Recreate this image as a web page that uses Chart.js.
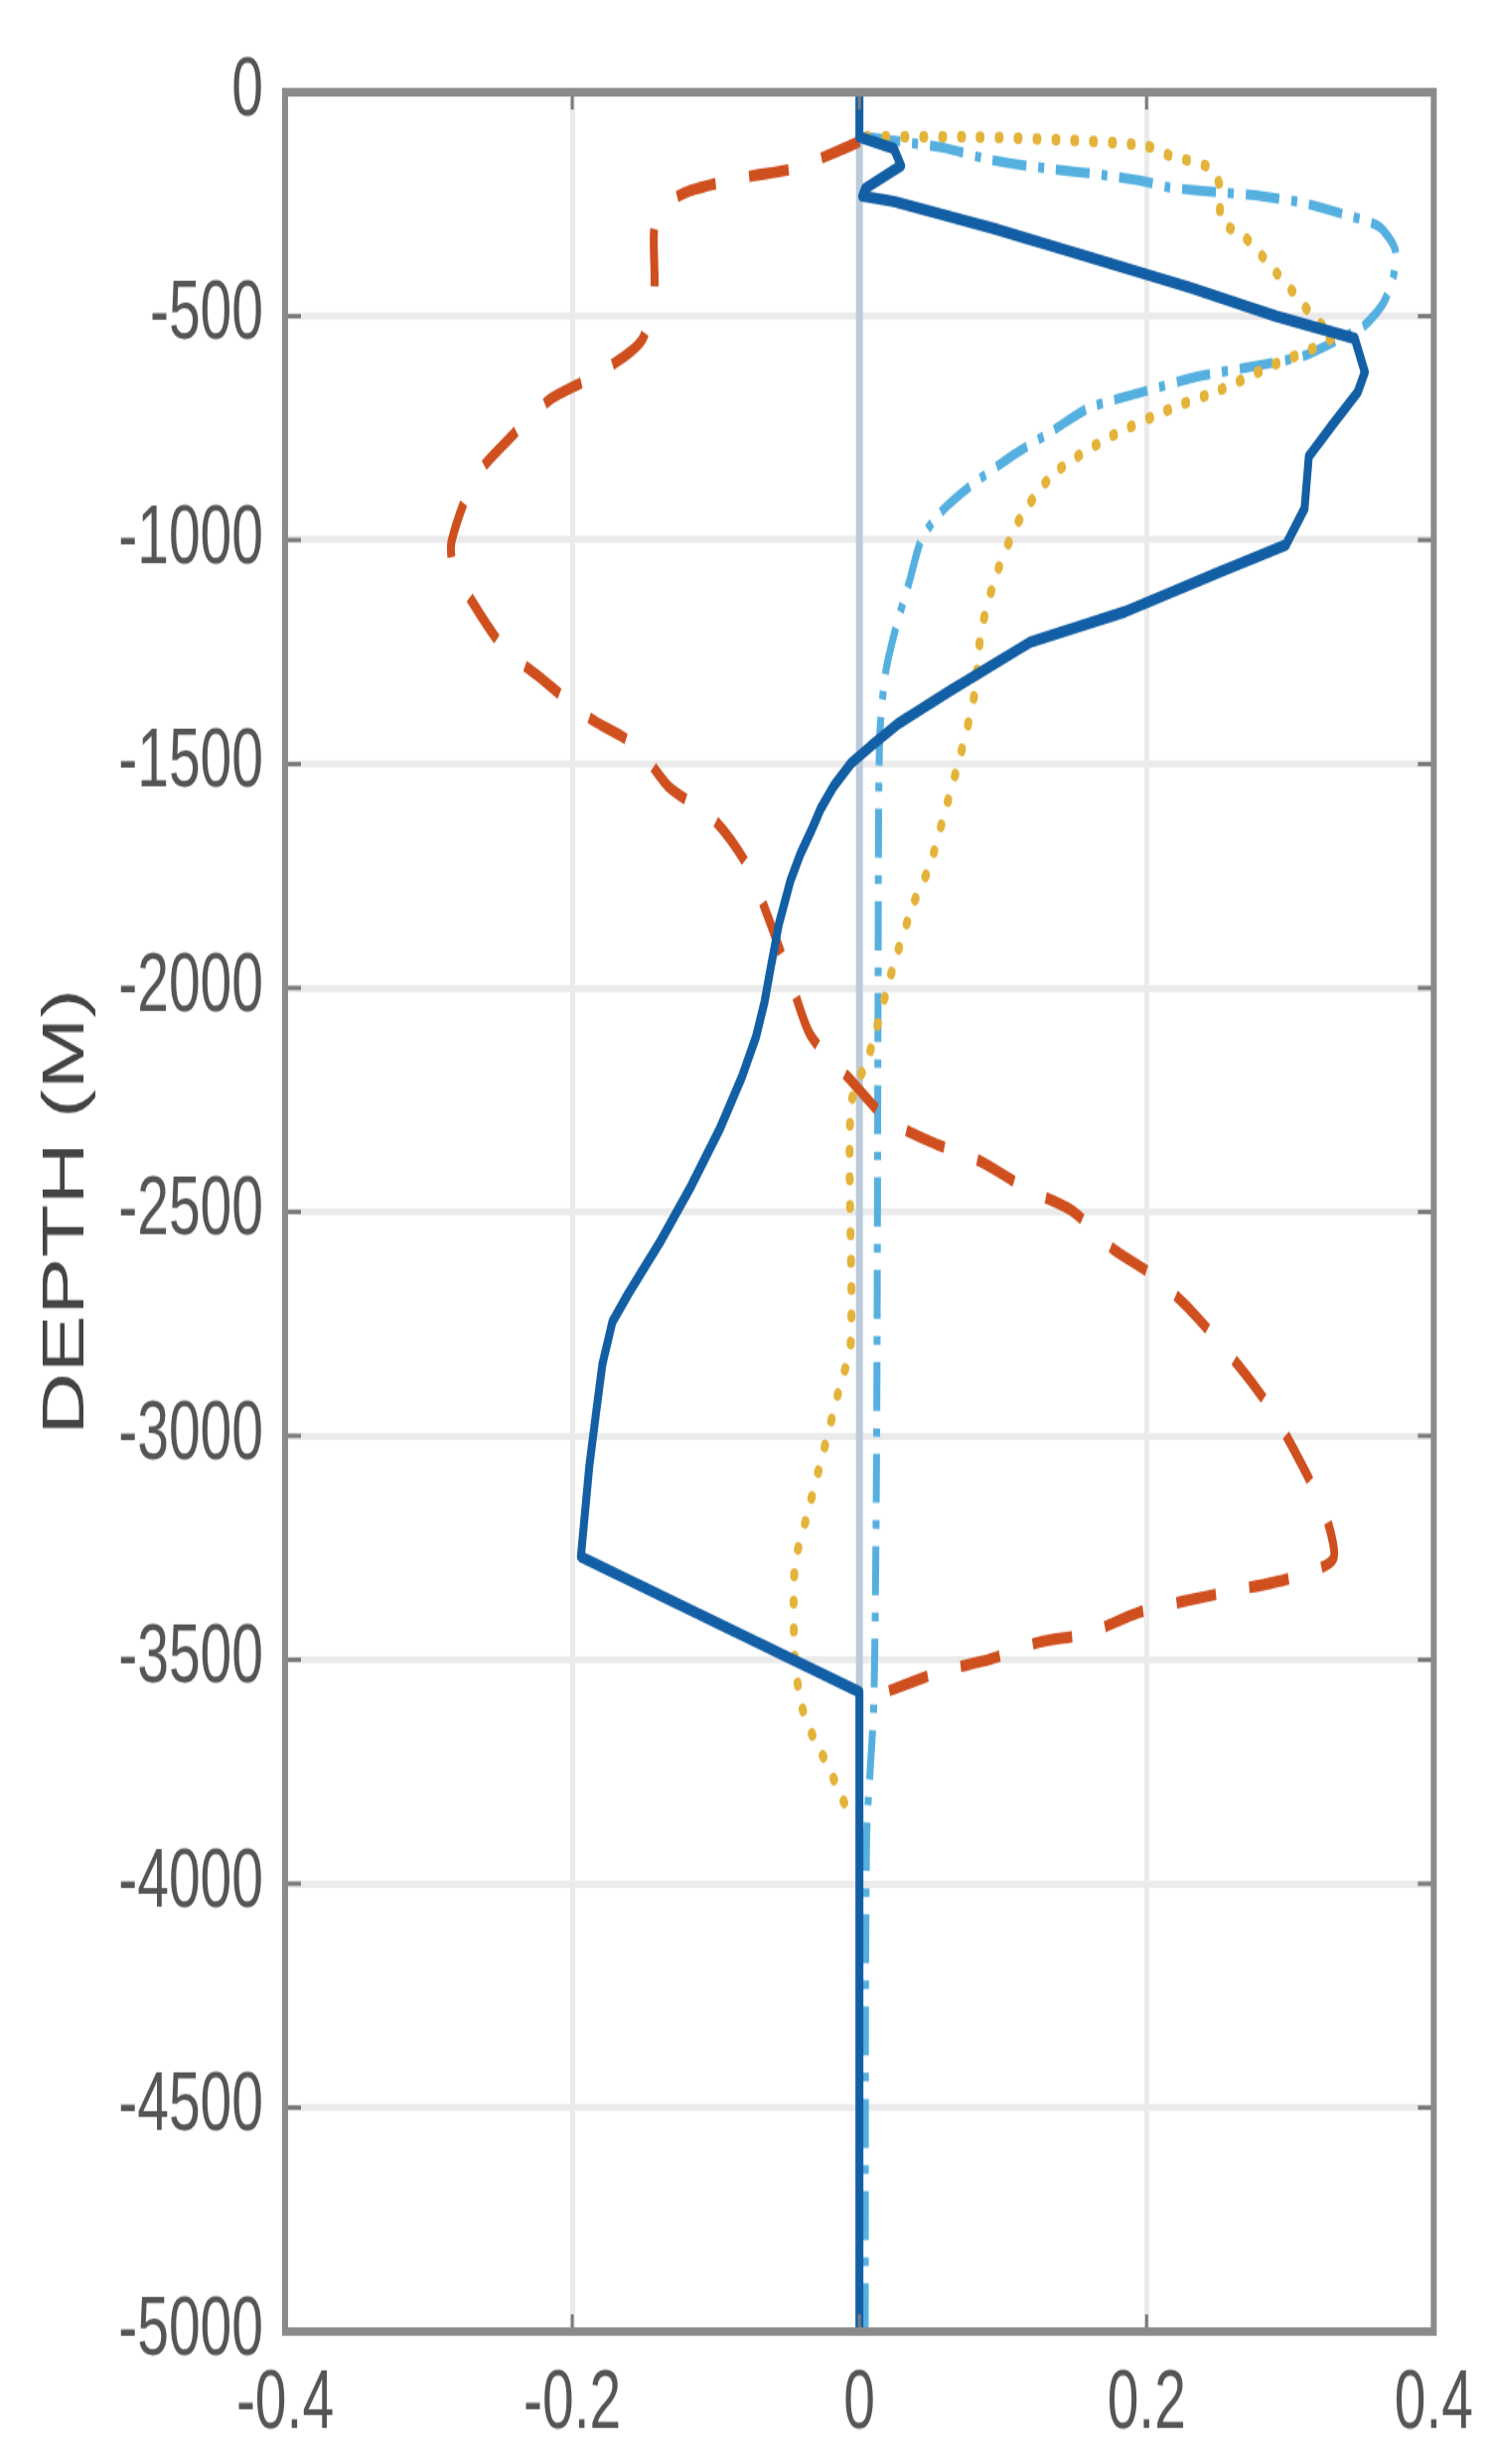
<!DOCTYPE html>
<html>
<head>
<meta charset="utf-8">
<script src="https://cdn.jsdelivr.net/npm/chart.js@4"></script>
<style>
html,body{margin:0;padding:0;background:#ffffff;overflow:hidden}
</style>
</head>
<body>
<canvas id="c" width="1500" height="1711" style="display:block;width:1500px;height:2481px"></canvas>
<script>
// ---- data (value on x, depth in metres on y) ----
const blueDepth = [0, -100, -126, -164, -215, -232, -244, -304, -370, -437, -500, -550, -625, -670, -740, -813, -930, -1011, -1071, -1160, -1228, -1337, -1410, -1460, -1499, -1550, -1600, -1652, -1700, -1760, -1856, -1958, -2030, -2109, -2200, -2313, -2441, -2568, -2683, -2745, -2840, -2938, -3064, -3270, -3572, -5000];
const blueValue = [0, 0, 0.024, 0.029, 0.004, 0.002, 0.024, 0.093, 0.162, 0.231, 0.29, 0.345, 0.352, 0.347, 0.33, 0.313, 0.31, 0.297, 0.251, 0.185, 0.119, 0.063, 0.027, 0.008, -0.006, -0.018, -0.027, -0.034, -0.041, -0.048, -0.056, -0.062, -0.066, -0.072, -0.082, -0.097, -0.117, -0.139, -0.161, -0.172, -0.179, -0.183, -0.188, -0.194, 0, 0];

const redDepth = [-110, -126, -170, -190, -220, -255, -308, -447, -556, -634, -685, -774, -862, -1002, -1060, -1131, -1240, -1308, -1397, -1461, -1550, -1625, -1727, -1856, -1982, -2106, -2206, -2295, -2348, -2388, -2448, -2497, -2581, -2641, -2721, -2843, -2938, -3064, -3180, -3275, -3318, -3345, -3370, -3395, -3441, -3461, -3499, -3525, -3570];
const redValue = [0, -0.011, -0.045, -0.08, -0.118, -0.137, -0.143, -0.143, -0.152, -0.185, -0.215, -0.244, -0.268, -0.284, -0.283, -0.271, -0.248, -0.222, -0.188, -0.155, -0.133, -0.101, -0.078, -0.062, -0.048, -0.034, -0.006, 0.02, 0.053, 0.085, 0.116, 0.148, 0.176, 0.204, 0.231, 0.264, 0.286, 0.308, 0.325, 0.33, 0.3, 0.262, 0.225, 0.194, 0.159, 0.125, 0.091, 0.058, 0.02];

const yellowDepth = [-100, -100, -108, -120, -140, -170, -210, -288, -319, -368, -417, -457, -506, -546, -615, -665, -705, -774, -853, -951, -1071, -1200, -1346, -1472, -1601, -1727, -1809, -1947, -2146, -2264, -2790, -2907, -3047, -3184, -3290, -3500, -3605, -3674, -3730, -3787, -3860];
const yellowValue = [0.005, 0.08, 0.15, 0.2, 0.215, 0.245, 0.251, 0.252, 0.267, 0.281, 0.294, 0.305, 0.317, 0.33, 0.284, 0.251, 0.218, 0.172, 0.135, 0.112, 0.096, 0.085, 0.08, 0.071, 0.06, 0.049, 0.038, 0.024, 0.007, -0.006, -0.006, -0.015, -0.026, -0.037, -0.045, -0.045, -0.04, -0.032, -0.023, -0.015, -0.005];

const cyanDepth = [-100, -112, -125, -150, -170, -185, -200, -212, -222, -232, -248, -275, -300, -350, -410, -470, -520, -550, -588, -612, -635, -667, -705, -755, -815, -880, -940, -1000, -1090, -1200, -1300, -1450, -2000, -3000, -3600, -3900, -5000];
const cyanValue = [0.005, 0.033, 0.06, 0.09, 0.13, 0.17, 0.2, 0.215, 0.245, 0.28, 0.31, 0.34, 0.362, 0.373, 0.372, 0.365, 0.352, 0.335, 0.31, 0.275, 0.235, 0.2, 0.16, 0.135, 0.105, 0.077, 0.056, 0.043, 0.035, 0.025, 0.018, 0.014, 0.013, 0.012, 0.01, 0.005, 0.004];

const zeroDepth = [0, -5000];
const zeroValue = [0, 0];

const xTickLabels = ['-0.4', '-0.2', '0', '0.2', '0.4'];
const yTickValues = [0, -500, -1000, -1500, -2000, -2500, -3000, -3500, -4000, -4500, -5000];
const yTickLabels = ['0', '-500', '-1000', '-1500', '-2000', '-2500', '-3000', '-3500', '-4000', '-4500', '-5000'];
const yTitle = 'DEPTH (M)';

function pts(values, depths) { return values.map((v, i) => ({ x: v, y: depths[i] })); }

const FONT = "'Liberation Sans', Arial, Helvetica, sans-serif";

const framePlugin = {
  id: 'frame',
  afterDraw(chart) {
    const { ctx, chartArea: a, scales } = chart;
    const xs = scales.x, ys = scales.y;
    ctx.save();
    ctx.strokeStyle = '#7a7a7a';
    ctx.lineWidth = 3;
    ys.ticks.forEach(t => {
      const py = ys.getPixelForValue(t.value);
      ctx.beginPath();
      ctx.moveTo(a.left, py); ctx.lineTo(a.left + 16, py);
      ctx.moveTo(a.right, py); ctx.lineTo(a.right - 16, py);
      ctx.stroke();
    });
    xs.ticks.forEach(t => {
      const px = xs.getPixelForValue(t.value);
      ctx.beginPath();
      ctx.moveTo(px, a.top); ctx.lineTo(px, a.top + 12);
      ctx.moveTo(px, a.bottom); ctx.lineTo(px, a.bottom - 12);
      ctx.stroke();
    });
    ctx.strokeStyle = '#8a8a8a';
    ctx.lineWidth = 6;
    ctx.strokeRect(a.left, a.top, a.width, a.height);
    ctx.restore();
  }
};

const common = { showLine: true, pointRadius: 0, pointHoverRadius: 0, fill: false };

new Chart(document.getElementById('c'), {
  type: 'scatter',
  data: {
    datasets: [
      Object.assign({ label: 'solid', data: pts(blueValue, blueDepth), borderColor: '#135fa5', borderWidth: 8, borderJoinStyle: 'round', tension: 0 }, common),
      Object.assign({ label: 'dashed', data: pts(redValue, redDepth), borderColor: '#cf4f1f', borderWidth: 8, borderDash: [40, 34], tension: 0.25 }, common),
      Object.assign({ label: 'dotted', data: pts(yellowValue, yellowDepth), borderColor: '#e3b33a', borderWidth: 8, borderDash: [1, 18], borderCapStyle: 'round', tension: 0.25 }, common),
      Object.assign({ label: 'dashdot', data: pts(cyanValue, cyanDepth), borderColor: '#55b0e0', borderWidth: 7, borderDash: [34, 12, 6, 12], tension: 0.25 }, common),
      Object.assign({ label: 'zero', data: pts(zeroValue, zeroDepth), borderColor: '#bccbdb', borderWidth: 7, tension: 0 }, common)
    ]
  },
  options: {
    responsive: false,
    devicePixelRatio: 1,
    animation: false,
    events: [],
    layout: { padding: { top: 64, right: 56, left: 0, bottom: 0 } },
    plugins: { legend: { display: false }, tooltip: { enabled: false } },
    scales: {
      x: {
        type: 'linear', position: 'bottom', min: -0.4, max: 0.4,
        afterFit(s) { s.height = 92; },
        ticks: { stepSize: 0.2, padding: 17, color: '#555555', font: { family: FONT, size: 57 },
                 callback: (v, i) => xTickLabels[i] },
        grid: { color: '#ebebeb', lineWidth: 5, drawTicks: false },
        border: { display: false }
      },
      y: {
        type: 'linear', position: 'left', min: -5000, max: 0,
        afterFit(s) { s.width = 287; },
        afterBuildTicks(s) { s.ticks = yTickValues.slice().reverse().map(v => ({ value: v })); },
        ticks: { padding: 22, color: '#555555', font: { family: FONT, size: 57 },
                 callback: (v) => yTickLabels[yTickValues.indexOf(v)] },
        grid: { color: '#ebebeb', lineWidth: 5, drawTicks: false },
        border: { display: false },
        title: { display: true, text: yTitle, color: '#444444', font: { family: FONT, size: 60 }, padding: { top: 31, bottom: 0 } }
      }
    }
  },
  plugins: [framePlugin]
});
</script>
</body>
</html>
